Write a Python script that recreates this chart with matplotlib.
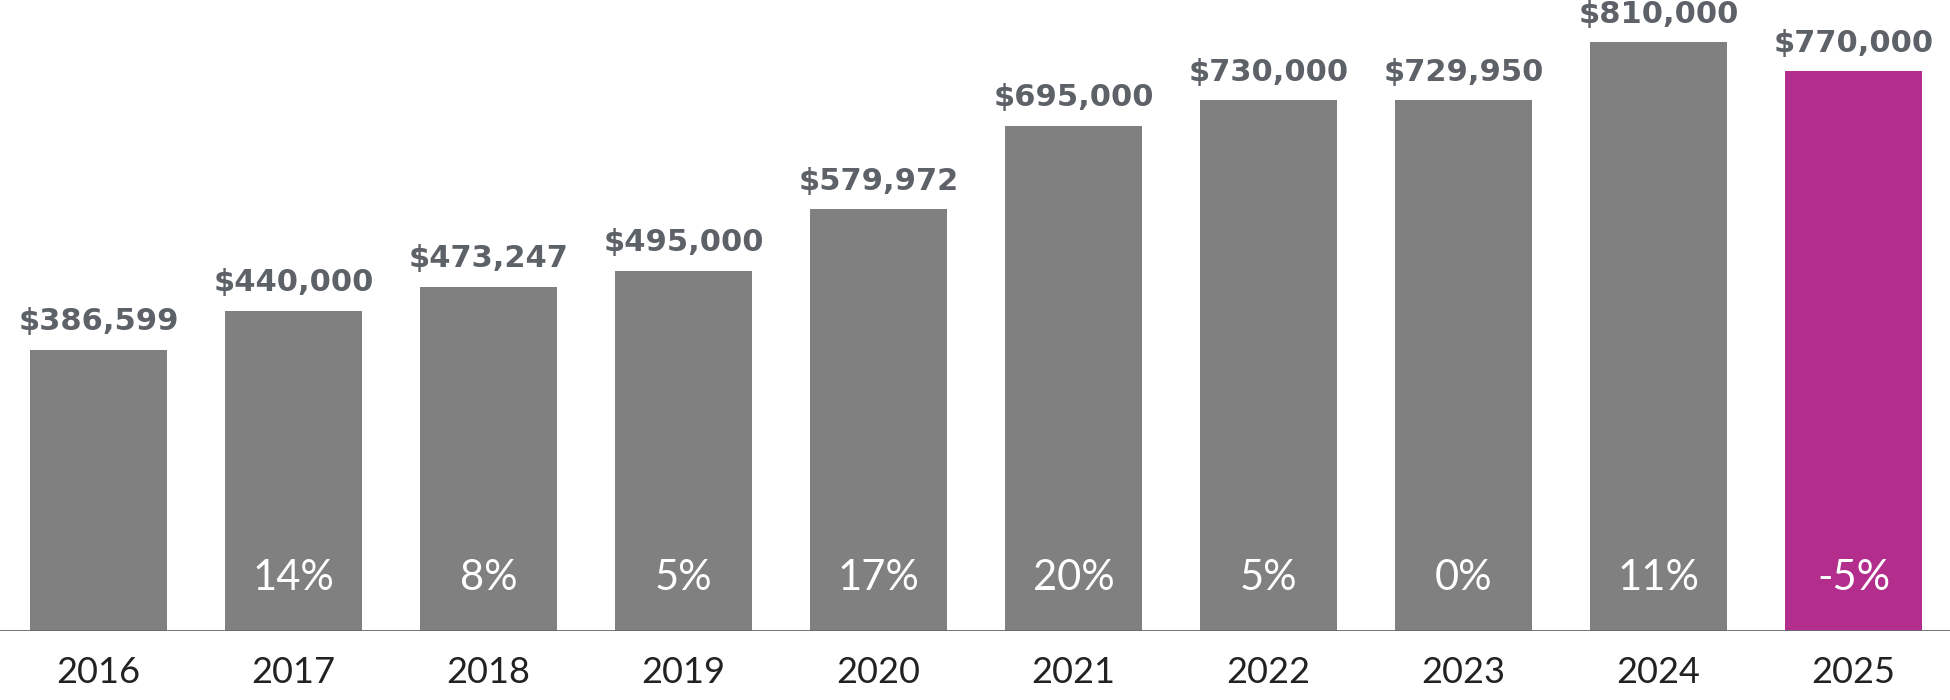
import matplotlib.pyplot as plt

years = ['2016', '2017', '2018', '2019', '2020', '2021', '2022', '2023', '2024', '2025']
prices = [386599, 440000, 473247, 495000, 579972, 695000, 730000, 729950, 810000, 770000]
changes = ['', '14%', '8%', '5%', '17%', '20%', '5%', '0%', '11%', '-5%']

grey = '#808080'
magenta = '#b22d8c'
colors = [grey] * (len(years) - 1) + [magenta]

fig = plt.figure(figsize=(19.5, 7), dpi=100)
ax = fig.add_axes([0, 0.099, 1, 0.901])

x = range(len(years))
bars = ax.bar(x, prices, width=0.70, color=colors, zorder=2)

for xi, p, c in zip(x, prices, changes):
    ax.annotate('${:,}'.format(p), (xi, p), xytext=(0, 14), textcoords='offset points',
                ha='center', va='baseline', fontsize=22, fontweight='bold',
                color='#5d6268', family='DejaVu Sans')
    if c:
        ax.annotate(c, (xi, 0), xytext=(0, 38), textcoords='offset points',
                    ha='center', va='center', fontsize=30, color='white',
                    family='Lato')
    ax.annotate(years[xi], (xi, 0), xytext=(0, -30), textcoords='offset points',
                ha='center', va='center', fontsize=26, color='#222222',
                family='Lato', annotation_clip=False)

ax.axhline(0, color='#666a70', lw=2, zorder=3)
ax.set_xlim(-0.505, 9.495)
ax.set_ylim(0, 867800)
ax.axis('off')

fig.savefig('out.png', dpi=100)
